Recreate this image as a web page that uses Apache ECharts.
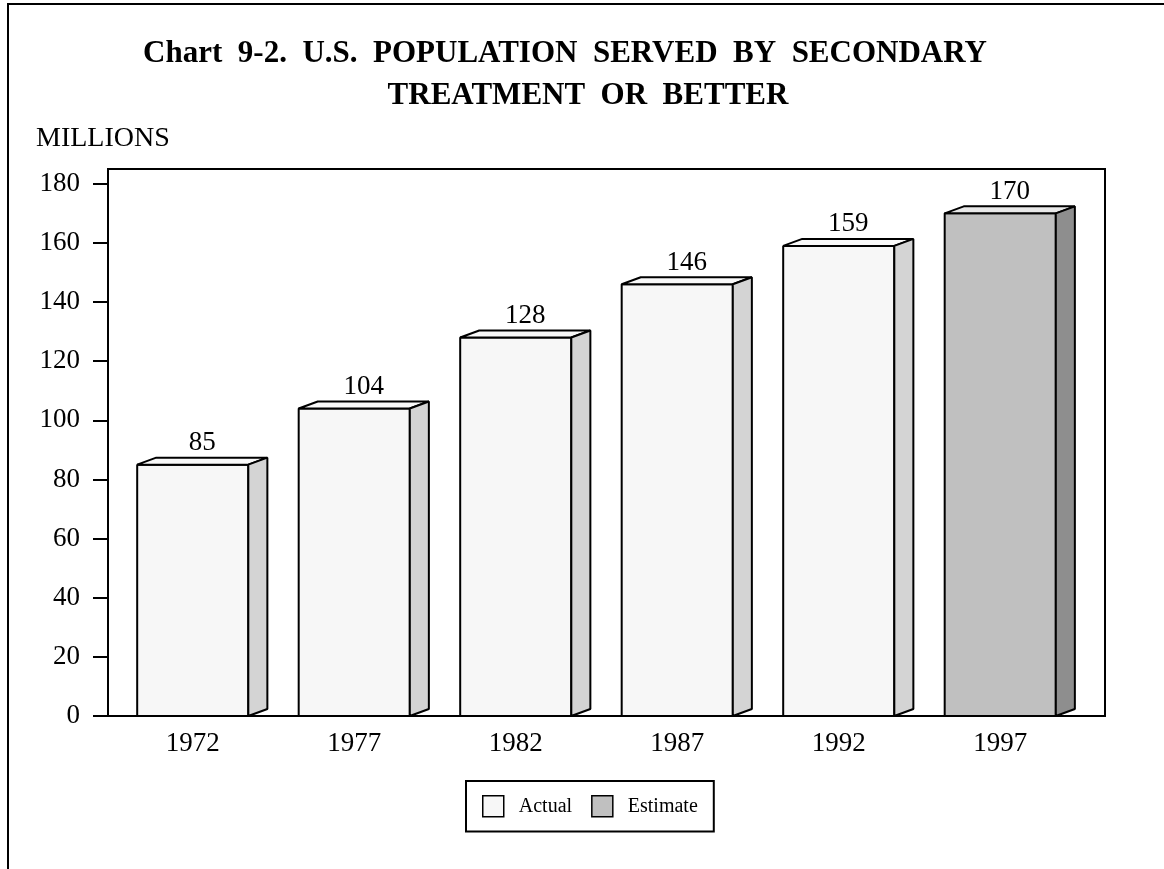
<!DOCTYPE html>
<html>
<head>
<meta charset="utf-8">
<script src="https://cdn.jsdelivr.net/npm/echarts@6/dist/echarts.min.js"></script>
<style>
  html, body { margin: 0; padding: 0; background: #fff; }
  #main { width: 1164px; height: 869px; }
</style>
</head>
<body>
<div id="main"></div>
<script>
  // data
  var years = ['1972', '1977', '1982', '1987', '1992', '1997'];
  var actual = [[0, 85], [1, 104], [2, 128], [3, 146], [4, 159]];
  var estimate = [[5, 170]];
  var yTicks = [0, 20, 40, 60, 80, 100, 120, 140, 160, 180];

  var font = 'Liberation Serif';

  // a box-shaped bar: front face, top face, side face and the value above it
  function box(colors) {
    return function (params, api) {
      var idx = api.value(0);
      var val = api.value(1);
      var base = api.coord([idx, 0]);
      var top = api.coord([idx, val]);
      var band = api.size([1, 0])[0];
      var half = band * 0.344;
      var dx = band * 0.118;
      var dy = 7;
      var l = base[0] - half, r = base[0] + half;
      var yb = base[1], yt = top[1];
      var line = { stroke: '#000', lineWidth: 2, lineJoin: 'bevel' };
      return {
        type: 'group',
        children: [
          { type: 'polygon', shape: { points: [[l, yt], [r, yt], [r, yb], [l, yb]] },
            style: Object.assign({ fill: colors[0] }, line) },
          { type: 'polygon', shape: { points: [[l, yt], [l + dx, yt - dy], [r + dx, yt - dy], [r, yt]] },
            style: Object.assign({ fill: colors[1] }, line) },
          { type: 'polygon', shape: { points: [[r, yt], [r + dx, yt - dy], [r + dx, yb - dy], [r, yb]] },
            style: Object.assign({ fill: colors[2] }, line) },
          { type: 'text', x: base[0] + dx / 2, y: yt - dy - 1,
            style: { text: String(val), fontFamily: font, fontSize: 27, fill: '#000',
                     align: 'center', verticalAlign: 'bottom' } }
        ]
      };
    };
  }

  var chart = echarts.init(document.getElementById('main'));
  chart.setOption({
    backgroundColor: '#fff',
    animation: false,
    graphic: [
      { type: 'polyline', shape: { points: [[8, 869], [8, 4], [1164, 4]] },
        style: { stroke: '#000', lineWidth: 2, fill: null } },
      { type: 'text', x: 565, y: 38,
        style: { text: 'Chart  9-2.  U.S.  POPULATION  SERVED  BY  SECONDARY', fontFamily: font,
                 fontSize: 31, fontWeight: 'bold', fill: '#000', align: 'center' } },
      { type: 'text', x: 588, y: 80,
        style: { text: 'TREATMENT  OR  BETTER', fontFamily: font,
                 fontSize: 31, fontWeight: 'bold', fill: '#000', align: 'center' } },
      { type: 'text', x: 36, y: 125,
        style: { text: 'MILLIONS', fontFamily: font, fontSize: 28, fill: '#000' } }
    ],
    legend: {
      left: 466,
      top: 781,
      padding: [14, 16, 14, 16],
      borderColor: '#000',
      borderWidth: 2,
      itemWidth: 21,
      itemHeight: 21,
      itemGap: 19,
      icon: 'rect',
      textStyle: { fontFamily: font, fontSize: 20, color: '#000', padding: [0, 0, 0, 10] },
      data: [
        { name: 'Actual', itemStyle: { color: '#f7f7f7', borderColor: '#000', borderWidth: 1.5 } },
        { name: 'Estimate', itemStyle: { color: '#c0c0c0', borderColor: '#000', borderWidth: 1.5 } }
      ]
    },
    grid: [
      { left: 108, right: 59, top: 169, bottom: 153, show: true,
        borderColor: '#000', borderWidth: 2, backgroundColor: 'transparent' },
      { left: 112, right: 83, top: 169, bottom: 153 }
    ],
    xAxis: [
      { gridIndex: 0, type: 'value', min: 0, max: 1, show: false },
      { gridIndex: 1, type: 'category', data: years,
        axisLine: { show: false }, axisTick: { show: false },
        axisLabel: { fontFamily: font, fontSize: 27, color: '#000', margin: 14 } }
    ],
    yAxis: [
      { gridIndex: 0, type: 'value', min: 0, max: 185, interval: 20,
        splitLine: { show: false },
        axisLine: { show: true, lineStyle: { color: '#000', width: 2 } },
        axisTick: { show: true, length: 15, customValues: yTicks, lineStyle: { color: '#000', width: 2 } },
        axisLabel: { fontFamily: font, fontSize: 27, color: '#000', margin: 28, customValues: yTicks } },
      { gridIndex: 1, type: 'value', min: 0, max: 185, show: false }
    ],
    series: [
      { name: 'Actual', type: 'custom', xAxisIndex: 1, yAxisIndex: 1,
        renderItem: box(['#f7f7f7', '#f9f9f9', '#d4d4d4']),
        encode: { x: 0, y: 1 }, data: actual },
      { name: 'Estimate', type: 'custom', xAxisIndex: 1, yAxisIndex: 1,
        renderItem: box(['#c0c0c0', '#e8e8e8', '#8e8e8e']),
        encode: { x: 0, y: 1 }, data: estimate }
    ]
  });
</script>
</body>
</html>
